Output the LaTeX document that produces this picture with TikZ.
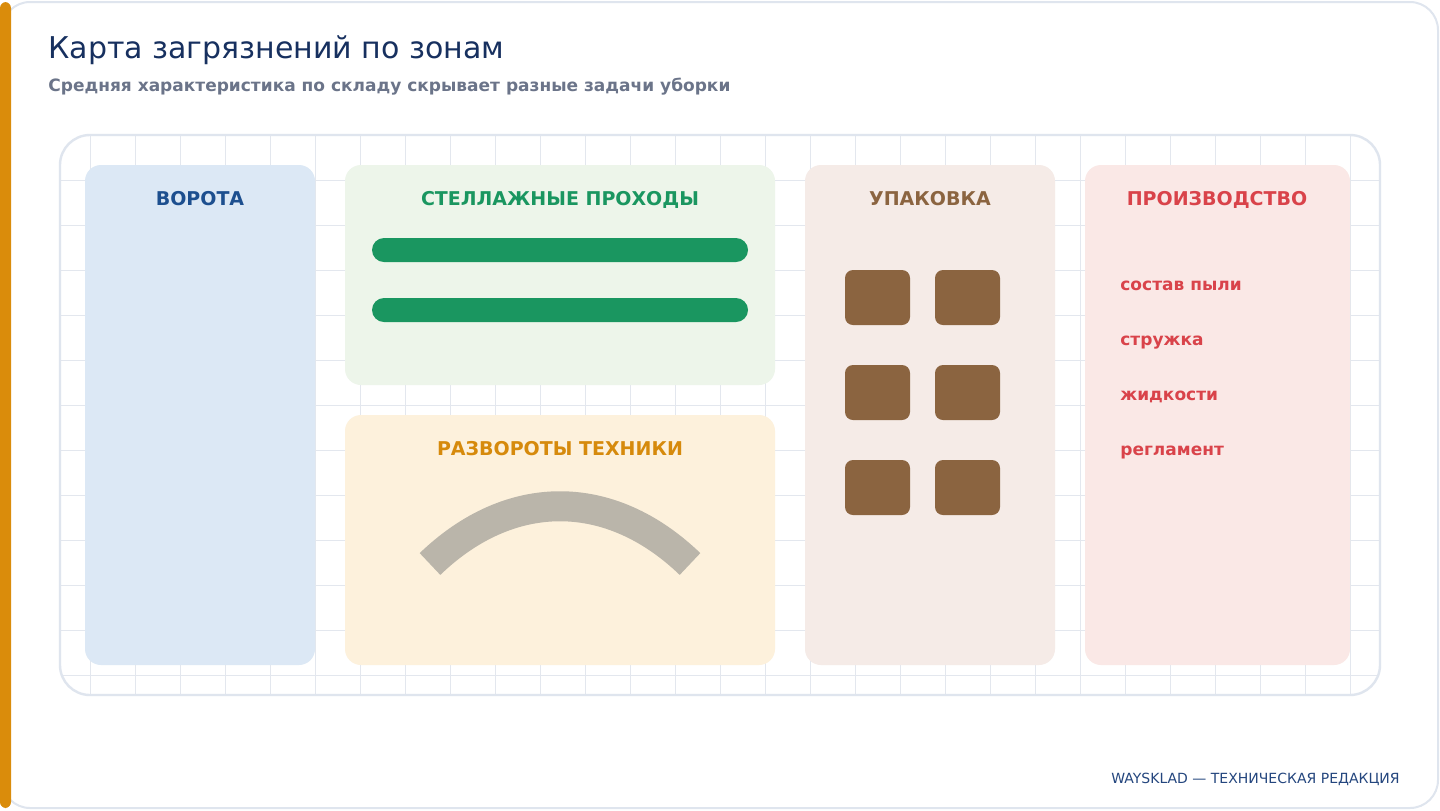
\documentclass[tikz,border=0pt]{standalone}
\usepackage{fontspec}
\setmainfont{DejaVu Sans}
\usepackage{tikz}
\usetikzlibrary{calc}

\definecolor{cardline}{HTML}{DFE5EE}
\definecolor{accent}{HTML}{DA8C0B}
\definecolor{titleblue}{HTML}{17305F}
\definecolor{subgray}{HTML}{6B7489}
\definecolor{gridline}{HTML}{E3E7EE}
\definecolor{gatefill}{HTML}{DCE8F5}
\definecolor{gatetext}{HTML}{1D4F8F}
\definecolor{aislefill}{HTML}{EDF5EA}
\definecolor{aislegreen}{HTML}{1A9660}
\definecolor{turnfill}{HTML}{FDF1DC}
\definecolor{turntext}{HTML}{D68A0C}
\definecolor{turnarc}{HTML}{BAB5AA}
\definecolor{packfill}{HTML}{F5EBE7}
\definecolor{packbrown}{HTML}{8B6440}
\definecolor{prodfill}{HTML}{FAE8E6}
\definecolor{prodred}{HTML}{D9434A}
\definecolor{footblue}{HTML}{24467E}

\tikzset{
  zonebox/.style={rounded corners=8pt},
  zonelabel/.style={font=\bfseries\fontsize{9.5}{11}\selectfont, anchor=base},
  prodnote/.style={font=\bfseries\fontsize{8.5}{10}\selectfont, text=prodred, anchor=base west, inner sep=0pt},
  crate/.style={fill=packbrown, rounded corners=4pt}
}

\begin{document}
\begin{tikzpicture}[x=0.5pt,y=-0.5pt]
    \useasboundingbox (0,0) rectangle (1440,810);
    % card
    \draw[cardline, line width=1pt, fill=white, rounded corners=14pt] (2,2) rectangle (1438,808);
    \fill[accent, rounded corners=3pt] (0,2) rectangle (11,808);
    \node[anchor=base west, inner sep=0pt, text=titleblue, font=\fontsize{15}{18}\selectfont] (title) at (48,58) {Карта загрязнений по зонам};
    \node[anchor=base west, inner sep=0pt, text=subgray, font=\bfseries\fontsize{8.5}{10}\selectfont] (subtitle) at (48,91) {Средняя характеристика по складу скрывает разные задачи уборки};

    % grid panel
    \fill[white, rounded corners=15pt] (60,135) rectangle (1380,695);
    \begin{scope}
        \clip[rounded corners=15pt] (60,135) rectangle (1380,695);
        \foreach \x in {90,135,...,1350}
        \draw[gridline, line width=0.5pt] (\x,135) -- (\x,695);
        \foreach \y in {180,225,...,675}
        \draw[gridline, line width=0.5pt] (60,\y) -- (1380,\y);
    \end{scope}
    \draw[cardline, line width=1.2pt, rounded corners=15pt] (60,135) rectangle (1380,695);

    % zones
    \fill[gatefill, zonebox] (85,165) rectangle (315,665);
    \fill[aislefill, zonebox] (345,165) rectangle (775,385);
    \fill[turnfill, zonebox] (345,415) rectangle (775,665);
    \fill[packfill, zonebox] (805,165) rectangle (1055,665);
    \fill[prodfill, zonebox] (1085,165) rectangle (1350,665);

    \node[zonelabel, text=gatetext] (gates) at (200,205) {ВОРОТА};
    \node[zonelabel, text=aislegreen] (aisles) at (560,205) {СТЕЛЛАЖНЫЕ ПРОХОДЫ};
    \node[zonelabel, text=turntext] (turns) at (560,455) {РАЗВОРОТЫ ТЕХНИКИ};
    \node[zonelabel, text=packbrown] (packing) at (930,205) {УПАКОВКА};
    \node[zonelabel, text=prodred] (production) at (1217,205) {ПРОИЗВОДСТВО};

    % aisles
    \foreach \y in {238,298}
    \fill[aislegreen, rounded corners=6pt] (372,\y) rectangle (748,\y+24);

    % turning arc
    \draw[turnarc, line width=15pt] (430,564) .. controls (510,487) and (610,487) .. (690,564);

    % crates
    \foreach \y in {270,365,460}
    \foreach \x in {845,935}
    \fill[crate] (\x,\y) rectangle (\x+65,\y+55);

    % production notes
    \node[prodnote] (dust) at (1120,290) {состав пыли};
    \node[prodnote] (chips) at (1120,345) {стружка};
    \node[prodnote] (fluids) at (1120,400) {жидкости};
    \node[prodnote] (rules) at (1120,455) {регламент};

    \node[anchor=base east, inner sep=0pt, text=footblue, font=\fontsize{7}{8}\selectfont] (footer) at (1400,783) {WAYSKLAD — ТЕХНИЧЕСКАЯ РЕДАКЦИЯ};
\end{tikzpicture}
\end{document}
